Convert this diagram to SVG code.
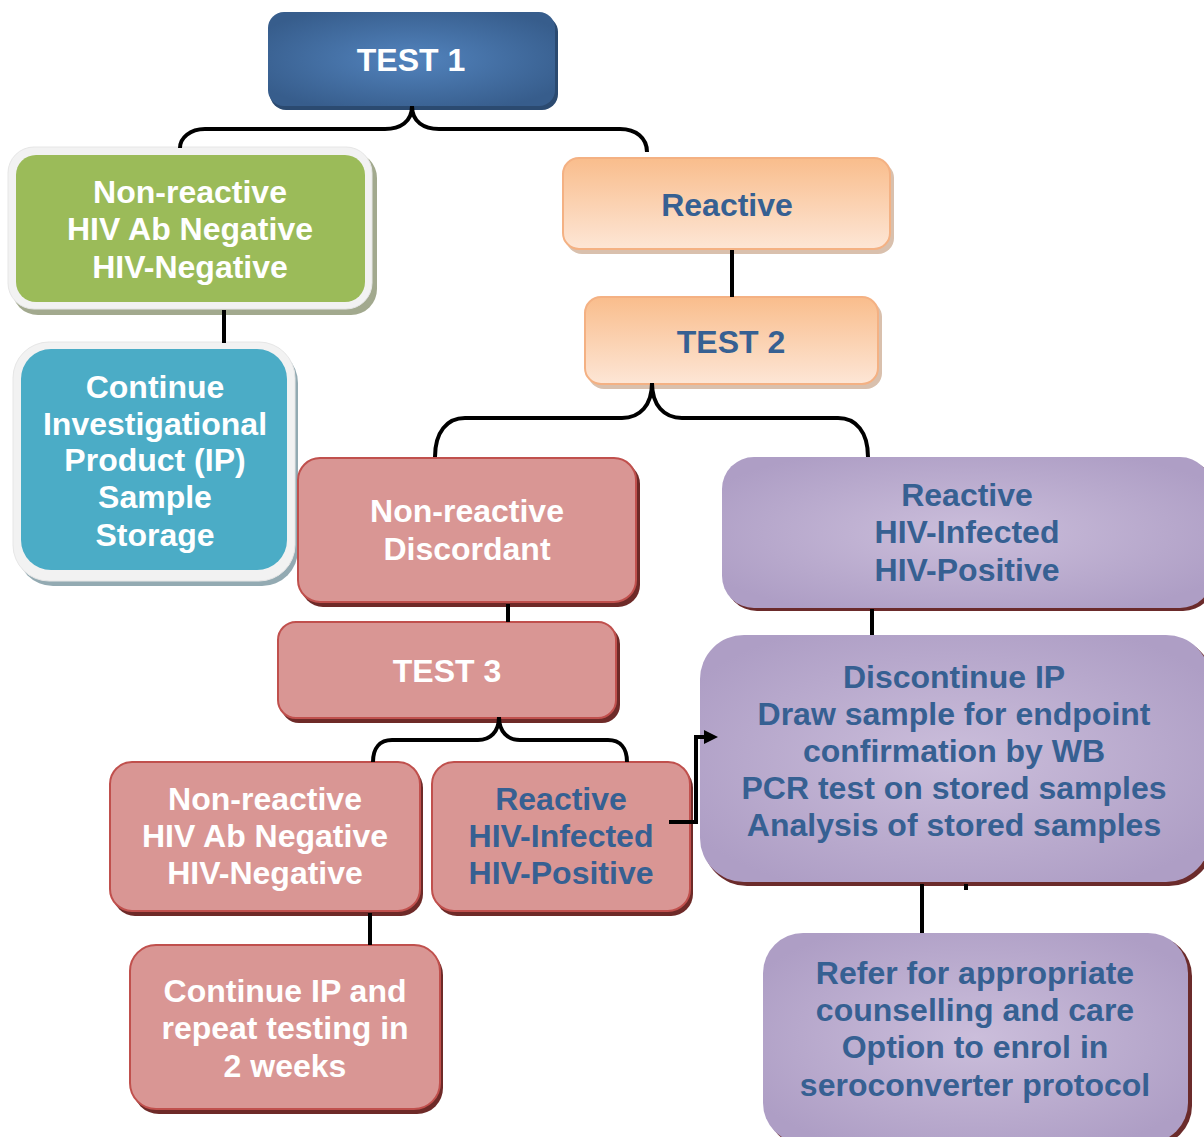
<svg xmlns="http://www.w3.org/2000/svg" width="1204" height="1137" viewBox="0 0 1204 1137">
  <defs>
    <radialGradient id="gBlue" cx="50%" cy="50%" r="60%">
      <stop offset="0" stop-color="#5283bd"/>
      <stop offset="1" stop-color="#375d8c"/>
    </radialGradient>
    <linearGradient id="gOrange" x1="0" y1="0" x2="0" y2="1">
      <stop offset="0" stop-color="#f9bd8c"/>
      <stop offset="1" stop-color="#fde6d6"/>
    </linearGradient>
    <radialGradient id="gPurple" cx="50%" cy="50%" r="60%">
      <stop offset="0" stop-color="#cbbedb"/>
      <stop offset="1" stop-color="#ae9ec5"/>
    </radialGradient>
    <marker id="arrow" markerWidth="14" markerHeight="14" refX="2" refY="7" orient="auto" markerUnits="userSpaceOnUse" viewBox="0 0 14 14">
      <path d="M0,0 L14,7 L0,14 Z" fill="#000"/>
    </marker>
    <style>
      text { font-family: "Liberation Sans", Arial, sans-serif; font-weight: bold; font-size: 32px; text-anchor: middle; }
      .w { fill: #ffffff; }
      .b { fill: #366092; }
      .pink { fill: #d99694; stroke: #c0504d; stroke-width: 2; }
      .pinkSh { fill: #6e2a28; }
      .purple { fill: url(#gPurple); }
      .purpleSh { fill: #6b2b2b; }
      .orange { fill: url(#gOrange); stroke: #f4b183; stroke-width: 2; }
      .orangeSh { fill: #c9a58a; opacity: 0.7; }
      .conn { fill: none; stroke: #000; stroke-width: 4; }
    </style>
  </defs>

  <!-- TEST 1 -->
  <g id="test1">
    <rect x="270" y="16" width="288" height="94" rx="16" fill="#2b4a70"/>
    <rect x="268" y="12" width="287" height="94" rx="16" fill="url(#gBlue)"/>
    <text class="w" x="411" y="71">TEST 1</text>
  </g>

  <!-- Non-reactive (green) -->
  <g id="nonreactive1">
    <rect x="12" y="152" width="365" height="163" rx="26" fill="#a2a98e"/>
    <rect x="8" y="147" width="364" height="162" rx="26" fill="#f2f2f2" stroke="#e6e6e6" stroke-width="1"/>
    <rect x="16" y="155" width="349" height="147" rx="20" fill="#9bbb59"/>
    <text class="w" x="190" y="203">Non-reactive</text>
    <text class="w" x="190" y="240">HIV Ab Negative</text>
    <text class="w" x="190" y="278">HIV-Negative</text>
  </g>

  <!-- Continue IP sample storage (teal) -->
  <g id="continueStorage">
    <rect x="17" y="347" width="281" height="239" rx="36" fill="#93aab2"/>
    <rect x="13" y="342" width="282" height="239" rx="36" fill="#f2f2f2" stroke="#e6e6e6" stroke-width="1"/>
    <rect x="21" y="349" width="266" height="221" rx="30" fill="#4bacc6"/>
    <text class="w" x="155" y="398">Continue</text>
    <text class="w" x="155" y="435">Investigational</text>
    <text class="w" x="155" y="471">Product (IP)</text>
    <text class="w" x="155" y="508">Sample</text>
    <text class="w" x="155" y="546">Storage</text>
  </g>

  <!-- Reactive (orange) -->
  <g id="reactive1">
    <rect x="566" y="162" width="328" height="92" rx="16" class="orangeSh"/>
    <rect x="563" y="158" width="327" height="91" rx="16" class="orange"/>
    <text class="b" x="727" y="216">Reactive</text>
  </g>

  <!-- TEST 2 -->
  <g id="test2">
    <rect x="588" y="301" width="294" height="88" rx="16" class="orangeSh"/>
    <rect x="585" y="297" width="293" height="87" rx="16" class="orange"/>
    <text class="b" x="731" y="353">TEST 2</text>
  </g>

  <!-- Non-reactive Discordant -->
  <g id="discordant">
    <rect x="301" y="462" width="339" height="145" rx="22" class="pinkSh"/>
    <rect x="298" y="458" width="338" height="144" rx="22" class="pink"/>
    <text class="w" x="467" y="522">Non-reactive</text>
    <text class="w" x="467" y="560">Discordant</text>
  </g>

  <!-- TEST 3 -->
  <g id="test3">
    <rect x="281" y="626" width="339" height="97" rx="18" class="pinkSh"/>
    <rect x="278" y="622" width="338" height="96" rx="18" class="pink"/>
    <text class="w" x="447" y="682">TEST 3</text>
  </g>

  <!-- Reactive HIV-Infected (after TEST 2) -->
  <g id="reactive2">
    <rect x="725" y="460" width="490" height="151" rx="32" class="purpleSh"/>
    <rect x="722" y="457" width="490" height="151" rx="32" class="purple"/>
    <text class="b" x="967" y="506">Reactive</text>
    <text class="b" x="967" y="543">HIV-Infected</text>
    <text class="b" x="967" y="581">HIV-Positive</text>
  </g>

  <!-- Discontinue IP -->
  <g id="discontinue">
    <rect x="703" y="638" width="510" height="248" rx="44" class="purpleSh"/>
    <rect x="700" y="635" width="510" height="247" rx="44" class="purple"/>
    <text class="b" x="954" y="688">Discontinue IP</text>
    <text class="b" x="954" y="725">Draw sample for endpoint</text>
    <text class="b" x="954" y="762">confirmation by WB</text>
    <text class="b" x="954" y="799">PCR test on stored samples</text>
    <text class="b" x="954" y="836">Analysis of stored samples</text>
  </g>

  <!-- Non-reactive HIV Ab Negative (after TEST 3) -->
  <g id="nonreactive3">
    <rect x="113" y="766" width="310" height="150" rx="22" class="pinkSh"/>
    <rect x="110" y="762" width="310" height="149" rx="22" class="pink"/>
    <text class="w" x="265" y="810">Non-reactive</text>
    <text class="w" x="265" y="847">HIV Ab Negative</text>
    <text class="w" x="265" y="884">HIV-Negative</text>
  </g>

  <!-- Reactive HIV-Infected (after TEST 3) -->
  <g id="reactive3">
    <rect x="435" y="766" width="258" height="150" rx="22" class="pinkSh"/>
    <rect x="432" y="762" width="258" height="149" rx="22" class="pink"/>
    <text class="b" x="561" y="810">Reactive</text>
    <text class="b" x="561" y="847">HIV-Infected</text>
    <text class="b" x="561" y="884">HIV-Positive</text>
  </g>

  <!-- Continue IP and repeat testing -->
  <g id="repeatTesting">
    <rect x="133" y="949" width="310" height="165" rx="26" class="pinkSh"/>
    <rect x="130" y="945" width="310" height="164" rx="26" class="pink"/>
    <text class="w" x="285" y="1002">Continue IP and</text>
    <text class="w" x="285" y="1039">repeat testing in</text>
    <text class="w" x="285" y="1077">2 weeks</text>
  </g>

  <!-- Refer for counselling -->
  <g id="refer">
    <rect x="766" y="936" width="426" height="210" rx="40" class="purpleSh"/>
    <rect x="763" y="933" width="425" height="210" rx="40" class="purple"/>
    <text class="b" x="975" y="984">Refer for appropriate</text>
    <text class="b" x="975" y="1021">counselling and care</text>
    <text class="b" x="975" y="1058">Option to enrol in</text>
    <text class="b" x="975" y="1096">seroconverter protocol</text>
  </g>

  <!-- connectors (drawn last so the arrowhead sits over the box edge) -->
  <g id="connectors">
    <path class="conn" d="M412,106 C412,122 400,129 385,129 L205,129 C190,129 180,138 180,148"/>
    <path class="conn" d="M412,106 C412,122 424,129 439,129 L620,129 C636,129 647,138 647,152"/>
    <line class="conn" x1="224" y1="310" x2="224" y2="343"/>
    <line class="conn" x1="732" y1="250" x2="732" y2="297"/>
    <path class="conn" d="M652,383 C652,405 640,418 622,418 L465,418 C447,418 435,432 435,457"/>
    <path class="conn" d="M652,383 C652,405 664,418 682,418 L838,418 C856,418 868,432 868,457"/>
    <line class="conn" x1="508" y1="604" x2="508" y2="622"/>
    <line class="conn" x1="872" y1="609" x2="872" y2="635"/>
    <path class="conn" d="M499,717 C499,732 490,740 478,740 L392,740 C380,740 373,748 373,762"/>
    <path class="conn" d="M499,717 C499,732 508,740 520,740 L608,740 C620,740 627,748 627,762"/>
    <line class="conn" x1="370" y1="913" x2="370" y2="945"/>
    <polyline class="conn" points="669,822 696,822 696,737 706,737" marker-end="url(#arrow)"/>
    <line class="conn" x1="922" y1="884" x2="922" y2="933"/>
    <line class="conn" x1="966" y1="884" x2="966" y2="890"/>
  </g>
</svg>
